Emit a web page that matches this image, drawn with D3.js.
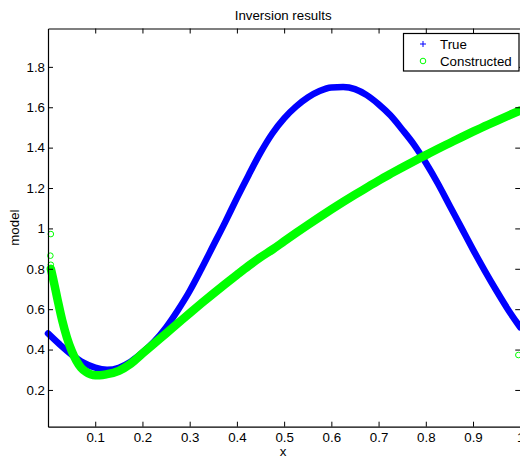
<!DOCTYPE html>
<html>
<head>
<meta charset="utf-8">
<script src="https://cdn.jsdelivr.net/npm/d3@7"></script>
<style>
    body { margin: 0; background: #fff; }
    svg { display: block; }
    text { font-family: "Liberation Sans", Arial, sans-serif; }
</style>
</head>
<body>
<div id="chart"></div>
<script>
// values
var xTrue = [0, 0.025, 0.05, 0.075, 0.1, 0.125, 0.15, 0.175, 0.2, 0.225, 0.25, 0.275, 0.3, 0.325, 0.35, 0.375,
    0.4, 0.425, 0.45, 0.475, 0.5, 0.525, 0.55, 0.575, 0.6, 0.625, 0.65, 0.675, 0.7, 0.725, 0.75, 0.775,
    0.8, 0.825, 0.85, 0.875, 0.9, 0.925, 0.95, 0.975, 1.0];
var trueModel = [0.48, 0.425, 0.375, 0.335, 0.31, 0.30, 0.31, 0.34, 0.385, 0.44, 0.51, 0.595, 0.69, 0.80, 0.915, 1.03,
    1.15, 1.265, 1.375, 1.47, 1.545, 1.603, 1.648, 1.68, 1.698, 1.70, 1.69, 1.66, 1.615, 1.56, 1.49, 1.415,
    1.325, 1.225, 1.115, 1.005, 0.895, 0.79, 0.69, 0.595, 0.51];

var xConstructed = [0.006, 0.01, 0.02, 0.03, 0.04, 0.05, 0.06, 0.07, 0.08, 0.09, 0.1, 0.11, 0.125, 0.15, 0.175, 0.2,
    0.225, 0.25, 0.275, 0.3, 0.325, 0.35, 0.375, 0.4, 0.425, 0.45, 0.475, 0.5, 0.525, 0.55, 0.575, 0.6,
    0.625, 0.65, 0.675, 0.7, 0.725, 0.75, 0.775, 0.8, 0.825, 0.85, 0.875, 0.9, 0.925, 0.95, 0.975, 1.0];
var constructedModel = [0.80, 0.76, 0.65, 0.545, 0.46, 0.395, 0.345, 0.31, 0.29, 0.278, 0.273, 0.273, 0.278, 0.295, 0.33, 0.38,
    0.43, 0.48, 0.53, 0.58, 0.629, 0.677, 0.724, 0.77, 0.815, 0.857, 0.895, 0.936, 0.977, 1.017, 1.056, 1.094,
    1.131, 1.167, 1.202, 1.237, 1.27, 1.302, 1.333, 1.363, 1.393, 1.422, 1.451, 1.479, 1.506, 1.533, 1.559, 1.584];

// isolated constructed points (left edge and right end)
var xConstructedEdge = [0.006, 0.005, 0.006, 0.996];
var constructedEdge = [0.972, 0.865, 0.82, 0.373];

var xTicks = [0.1, 0.2, 0.3, 0.4, 0.5, 0.6, 0.7, 0.8, 0.9, 1];
var yTicks = [0.2, 0.4, 0.6, 0.8, 1, 1.2, 1.4, 1.6, 1.8];
var legendLabels = ["True", "Constructed"];

var w = 520, h = 462;
var margin = { top: 28.5, left: 48 };
var pw = 472.25, ph = 398.2;

var blue = "#0000ff", green = "#00ff00";

var xScale = d3.scaleLinear().domain([0, 1]).range([0, pw]);
var yScale = d3.scaleLinear().domain([0.018, 1.99]).range([ph, 0]);

var svg = d3.select("#chart")
    .append("svg")
    .attr("width", w)
    .attr("height", h);

var g = svg.append("g")
    .attr("transform", "translate(" + margin.left + "," + margin.top + ")");

var line = d3.line()
    .x(function (d) { return xScale(d[0]); })
    .y(function (d) { return yScale(d[1]); })
    .curve(d3.curveMonotoneX);

// True curve (dense + markers -> thick band)
g.append("path")
    .datum(d3.zip(xTrue, trueModel))
    .attr("d", line)
    .attr("fill", "none")
    .attr("stroke", blue)
    .attr("stroke-width", 6.5)
    .attr("stroke-linecap", "round");

// Constructed curve (dense o markers -> thick band)
g.append("path")
    .datum(d3.zip(xConstructed, constructedModel))
    .attr("d", line)
    .attr("fill", "none")
    .attr("stroke", green)
    .attr("stroke-width", 8.5)
    .attr("stroke-linecap", "round");

g.selectAll("circle.edge")
    .data(d3.zip(xConstructedEdge, constructedEdge))
    .enter()
    .append("circle")
    .attr("class", "edge")
    .attr("cx", function (d) { return xScale(d[0]); })
    .attr("cy", function (d) { return yScale(d[1]); })
    .attr("r", 2.8)
    .attr("fill", "none")
    .attr("stroke", green)
    .attr("stroke-width", 1);

// axes, ticks inward like matlab
var fmt = d3.format("~g");
var xAxis = d3.axisBottom(xScale).tickValues(xTicks).tickSizeInner(-5).tickSizeOuter(0).tickPadding(6)
    .tickFormat(fmt);
var yAxis = d3.axisLeft(yScale).tickValues(yTicks).tickSizeInner(-5).tickSizeOuter(0).tickPadding(3)
    .tickFormat(fmt);
var xTop = d3.axisTop(xScale).tickValues(xTicks).tickSizeInner(-5).tickSizeOuter(0).tickFormat("");
var yRight = d3.axisRight(yScale).tickValues(yTicks).tickSizeInner(-5).tickSizeOuter(0).tickFormat("");

function styleAxis(sel) {
    sel.selectAll("path").attr("stroke", "#000").attr("stroke-width", 1.2);
    sel.selectAll("line").attr("stroke", "#000").attr("stroke-width", 1);
    sel.selectAll("text").attr("fill", "#000").style("font-size", "13.3px")
        .style("font-family", "'Liberation Sans', Arial, sans-serif");
}

g.append("g").attr("transform", "translate(0," + ph + ")").call(xAxis).call(styleAxis);
g.append("g").call(yAxis).call(styleAxis);
g.append("g").call(xTop).call(styleAxis);
g.append("g").attr("transform", "translate(" + pw + ",0)").call(yRight).call(styleAxis);

// titles
svg.append("text")
    .attr("x", margin.left + pw / 2 - 1)
    .attr("y", 20)
    .attr("text-anchor", "middle")
    .style("font-size", "13.3px")
    .text("Inversion results");

svg.append("text")
    .attr("x", margin.left + pw / 2 - 1)
    .attr("y", 456)
    .attr("text-anchor", "middle")
    .style("font-size", "13.3px")
    .text("x");

svg.append("text")
    .attr("transform", "translate(19," + (margin.top + ph / 2) + ") rotate(-90)")
    .attr("text-anchor", "middle")
    .style("font-size", "13.3px")
    .text("model");

// legend
var legend = svg.append("g").attr("transform", "translate(403.5,33.5)");
legend.append("rect")
    .attr("width", 115.5)
    .attr("height", 37.5)
    .attr("fill", "#fff")
    .attr("stroke", "#000")
    .attr("stroke-width", 1.2);

legend.append("path")
    .attr("d", "M16.5,10.5h6M19.5,7.5v6")
    .attr("stroke", blue)
    .attr("stroke-width", 1);
legend.append("circle")
    .attr("cx", 19.5)
    .attr("cy", 27.5)
    .attr("r", 2.8)
    .attr("fill", "none")
    .attr("stroke", green);

legend.selectAll("text.lbl")
    .data(legendLabels)
    .enter()
    .append("text")
    .attr("class", "lbl")
    .attr("x", 36.5)
    .attr("y", function (d, i) { return 15.5 + i * 17; })
    .style("font-size", "13.3px")
    .text(function (d) { return d; });
</script>
</body>
</html>
